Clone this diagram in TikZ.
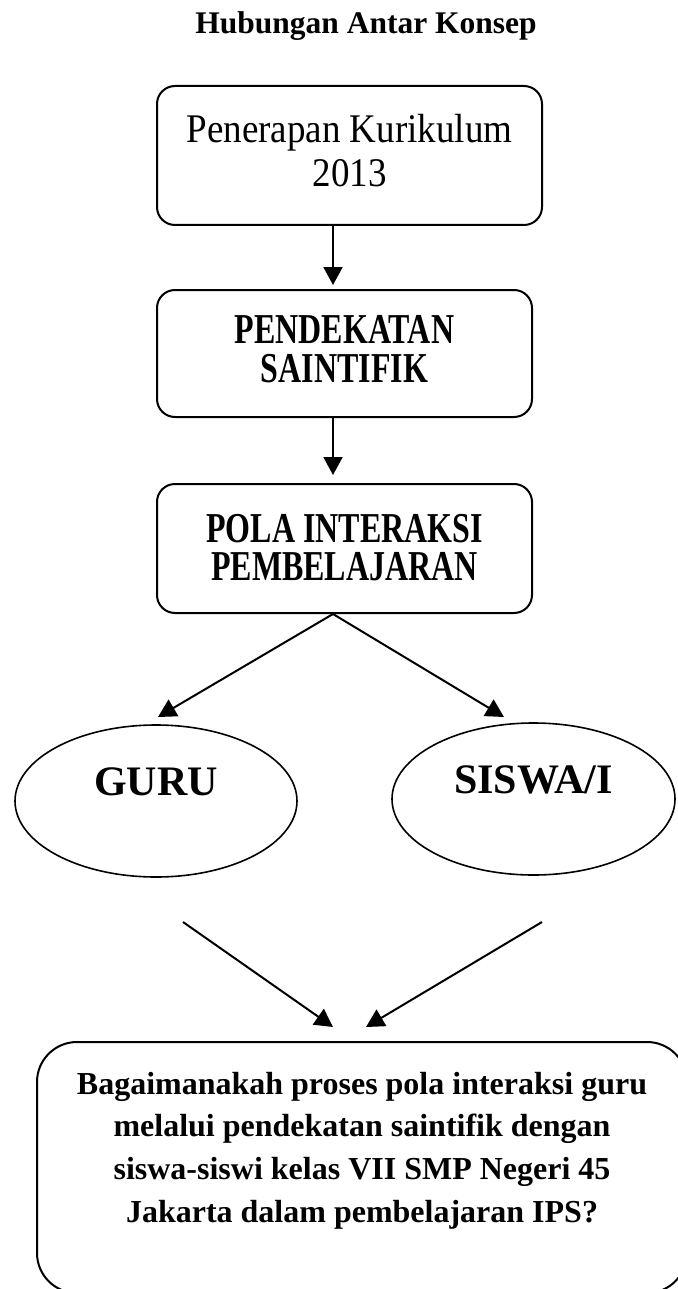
\documentclass[tikz,border=0pt]{standalone}
\usepackage{fontspec}
\setmainfont{Liberation Serif}
\usetikzlibrary{arrows.meta,shapes.geometric}
\newcommand\tb[5]{\raisebox{#1pt}[0pt][0pt]{\scalebox{1}[#2]{\fontsize{#3pt}{#4pt}\selectfont\begin{tabular}[t]{@{}c@{}}#5\end{tabular}}}}
\tikzset{
  box/.style={draw, line width=2pt, rounded corners=18pt, inner sep=0pt},
  bigbox/.style={draw, line width=2pt, rounded corners=40pt, inner sep=0pt},
  oval/.style={draw, ellipse, line width=1.6pt, inner sep=0pt},
  arr/.style={line width=2pt, -{Triangle[length=18pt,width=19pt]}},
  plain/.style={inner sep=0pt}
}
\begin{document}
\begin{tikzpicture}[x=1pt,y=-1pt]
\useasboundingbox (0,0) rectangle (677,1289);
\node[plain] (title) at (366,34) {\tb{0}{1}{31.5}{36}{\bfseries Hubungan Antar Konsep}};
\node[box, minimum width=385pt, minimum height=139pt] (b1) at (349.5,155.5)
  {\tb{12.5}{1.1}{37}{40}{Penerapan Kurikulum\\2013}};
\node[box, minimum width=375pt, minimum height=127pt] (b2) at (344.5,353.5)
  {\tb{10.5}{1.33}{32}{27.8}{\bfseries PENDEKATAN\\\bfseries SAINTIFIK}};
\node[box, minimum width=375pt, minimum height=129pt] (b3) at (344.5,548.5)
  {\tb{6.5}{1.33}{32}{26.3}{\bfseries POLA INTERAKSI\\\bfseries PEMBELAJARAN}};
\node[oval, minimum width=282pt, minimum height=152pt] (guru) at (156,801)
  {\tb{6}{1}{42}{48}{\bfseries GURU}};
\node[oval, minimum width=283pt, minimum height=152pt] (siswa) at (533.5,799)
  {\tb{6}{1}{42}{48}{\bfseries SISWA/I}};
\node[bigbox, minimum width=650pt, minimum height=251pt] (q) at (362,1167.5)
  {\tb{73.5}{1}{32}{42.7}{\bfseries Bagaimanakah proses pola interaksi guru\\
   \bfseries melalui pendekatan saintifik dengan\\
   \bfseries siswa-siswi kelas VII SMP Negeri 45\\
   \bfseries Jakarta dalam pembelajaran IPS?}};
\coordinate (ax) at (333,0);
\coordinate (tg) at (158,717);
\coordinate (ts) at (504,717);
\coordinate (sl) at (183,922);
\coordinate (sr) at (542,922);
\coordinate (tl) at (333,1027);
\coordinate (tr) at (366,1027);
\draw[arr, shorten >=4pt] (b1.south -| ax) -- (b2.north -| ax);
\draw[arr, shorten >=8pt] (b2.south -| ax) -- (b3.north -| ax);
\draw[arr] (b3.south -| ax) -- (tg);
\draw[arr] (b3.south -| ax) -- (ts);
\draw[arr] (sl) -- (tl);
\draw[arr] (sr) -- (tr);
\end{tikzpicture}
\end{document}
